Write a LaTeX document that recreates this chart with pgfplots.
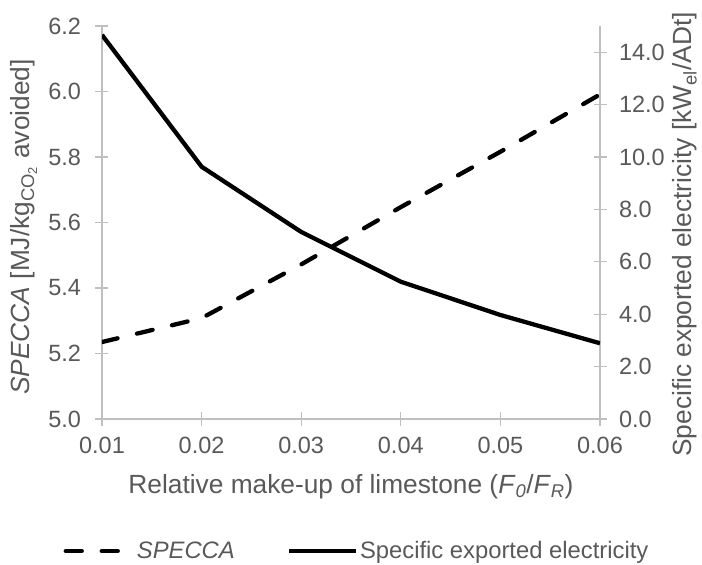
\documentclass[border=0pt]{standalone}
\usepackage{fontspec}
\setmainfont{Liberation Sans}
\usepackage{pgfplots}
\pgfplotsset{compat=1.18}
\definecolor{txt}{HTML}{595959}
\definecolor{axgray}{HTML}{BFBFBF}

\begin{document}
\begin{tikzpicture}
\pgfplotsset{
  mystyle/.style={
    scale only axis, width=498bp, height=393bp,
    xmin=0.01, xmax=0.06,
    xtick={0.01,0.02,0.03,0.04,0.05,0.06},
    scaled ticks=false,
    tick align=center, major tick length=13bp,
    tick style={axgray, line width=1.3bp},
    axis line style={axgray, line width=1.3bp, -},
    ticklabel style={font=\fontsize{23.5bp}{28bp}\selectfont, text=txt},
    /pgf/number format/assume math mode=true,
    label style={font=\fontsize{26.3bp}{30bp}\selectfont, text=txt},
  }
}
\path[use as bounding box] (-102bp,-146bp) rectangle (600bp,419bp);
\begin{axis}[mystyle,
  axis y line*=left, axis x line*=bottom,
  ymin=5, ymax=6.2,
  ytick={5.0,5.2,5.4,5.6,5.8,6.0,6.2},
  yticklabel style={/pgf/number format/.cd, fixed, fixed zerofill, precision=1, /tikz/.cd, xshift=-11bp},
  xticklabel style={/pgf/number format/.cd, fixed, fixed zerofill, precision=2, /tikz/.cd, yshift=-8bp},
  xlabel={Relative make-up of limestone (\textit{F}\textsubscript{\textit{0}}/\textit{F}\textsubscript{\textit{R}})},
  xlabel style={at={([yshift=-74bp]axis description cs:0.5,0)}, anchor=base},
  ylabel={\textit{SPECCA} [MJ/kg\textsubscript{CO\textsubscript{2}} avoided]},
  ylabel style={at={([xshift=-78bp,yshift=-4.5bp]axis description cs:0,0.5)}, anchor=center, rotate=0},
]
\addplot[black, line width=4.3bp, dash pattern=on 16bp off 20bp, line cap=round] coordinates {
  (0.01,5.235) (0.02,5.308) (0.03,5.472) (0.04,5.647) (0.05,5.816) (0.06,5.991)
};
\end{axis}
\begin{axis}[mystyle,
  axis y line*=right, axis x line=none,
  ymin=0, ymax=15,
  ytick={0,2,4,6,8,10,12,14},
  yticklabel style={/pgf/number format/.cd, fixed, fixed zerofill, precision=1, /tikz/.cd, xshift=9bp},
  ylabel={Specific exported electricity [kW\textsubscript{el}/ADt]},
  ylabel style={at={([xshift=85bp,yshift=-12bp]axis description cs:1,0.5)}, anchor=center, rotate=0},
  legend columns=2,
  legend style={at={([xshift=6bp,yshift=-132bp]axis description cs:0.5,0)}, anchor=center,
    draw=none, fill=none, font=\fontsize{23.8bp}{28bp}\selectfont, text=txt,
    /tikz/every even column/.append style={column sep=50bp}},
  legend image code/.code={\draw[#1] (0bp,0bp) -- (67bp,0bp);},
]
\addlegendimage{black, line width=4.3bp, dash pattern=on 16bp off 20bp, line cap=round}
\addlegendentry{\textit{SPECCA}}
\addplot[black, line width=4.3bp, line join=round] coordinates {
  (0.01,14.66) (0.02,9.63) (0.03,7.14) (0.04,5.24) (0.05,3.97) (0.06,2.89)
};
\addlegendentry{Specific exported electricity}
\end{axis}
\end{tikzpicture}
\end{document}
